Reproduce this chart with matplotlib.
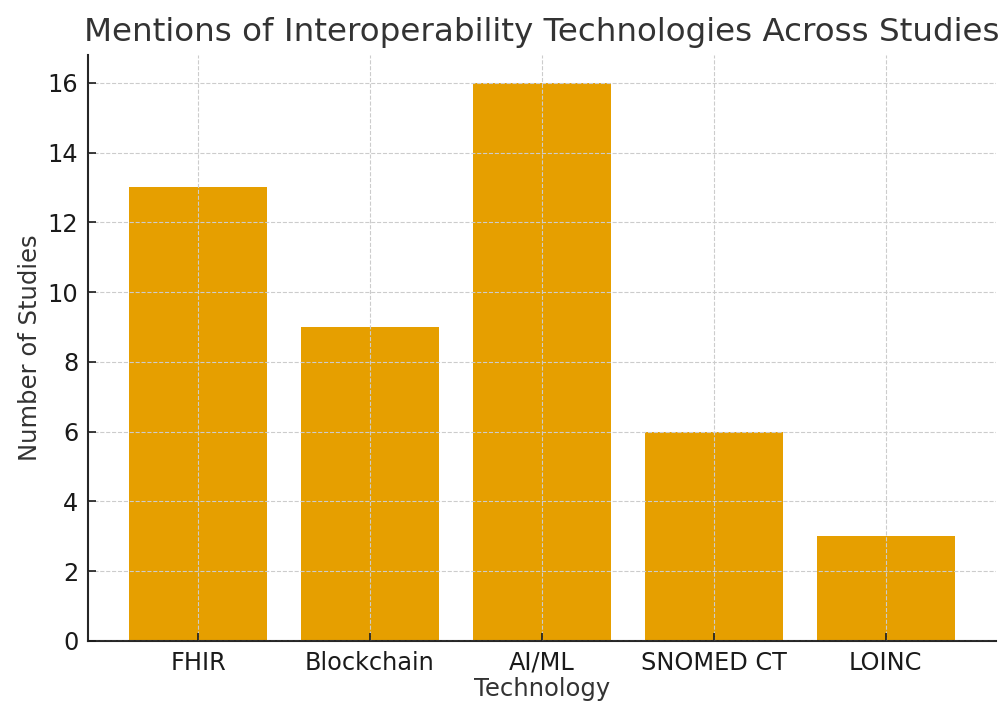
import matplotlib
matplotlib.use("Agg")
import matplotlib.pyplot as plt

technologies = ["FHIR", "Blockchain", "AI/ML", "SNOMED CT", "LOINC"]
study_counts = [13, 9, 16, 6, 3]

fig = plt.figure(figsize=(10.02, 7.04), dpi=100)
ax = fig.add_axes([0.0878, 0.0895, 0.906, 0.8325])

ax.bar(technologies, study_counts, width=0.8, color="#E69F00", zorder=2)

ax.grid(True, linestyle="--", color="#cccccc", linewidth=0.8, zorder=3)
ax.set_axisbelow(False)

for side in ("top", "right"):
    ax.spines[side].set_visible(False)
for side in ("left", "bottom"):
    ax.spines[side].set_color("#262626")
    ax.spines[side].set_linewidth(1.5)

ax.tick_params(axis="both", direction="in", length=6, width=1.2,
               labelsize=17.3, colors="#1a1a1a", pad=7)

ax.set_title("Mentions of Interoperability Technologies Across Studies",
             fontsize=23.4, color="#333333", pad=10)
ax.set_xlabel("Technology", fontsize=17.5, color="#333333", labelpad=2)
ax.set_ylabel("Number of Studies", fontsize=17.5, color="#333333", labelpad=4)

fig.savefig("out.png", dpi=100)
